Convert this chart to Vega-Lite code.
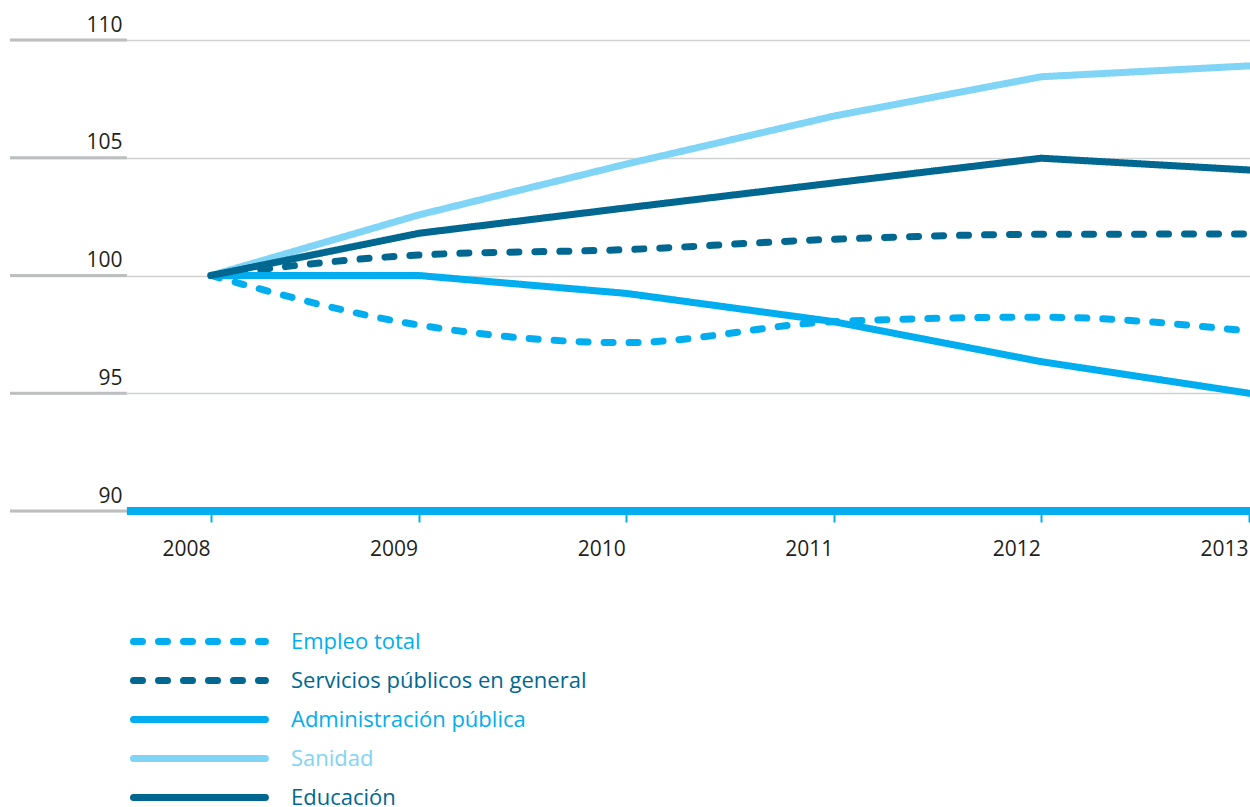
{
  "$schema": "https://vega.github.io/schema/vega-lite/v6.json",
  "autosize": {"type": "none"},
  "padding": {"left": 10, "top": 40, "right": 0, "bottom": 296},
  "width": 1240,
  "height": 471,
  "background": "white",
  "config": {
    "view": {"stroke": null},
    "font": "Open Sans"
  },
  "datasets": {
    "series": [
      {"serie": "Empleo total", "year": 2008, "value": 100},
      {"serie": "Empleo total", "year": 2009, "value": 97.9},
      {"serie": "Empleo total", "year": 2010, "value": 97.15},
      {"serie": "Empleo total", "year": 2011, "value": 98.04},
      {"serie": "Empleo total", "year": 2012, "value": 98.23},
      {"serie": "Empleo total", "year": 2013, "value": 97.64},
      {"serie": "Servicios públicos en general", "year": 2008, "value": 100},
      {"serie": "Servicios públicos en general", "year": 2009, "value": 100.87},
      {"serie": "Servicios públicos en general", "year": 2010, "value": 101.1},
      {"serie": "Servicios públicos en general", "year": 2011, "value": 101.54},
      {"serie": "Servicios públicos en general", "year": 2012, "value": 101.75},
      {"serie": "Servicios públicos en general", "year": 2013, "value": 101.76},
      {"serie": "Administración pública", "year": 2008, "value": 100},
      {"serie": "Administración pública", "year": 2009, "value": 100},
      {"serie": "Administración pública", "year": 2010, "value": 99.24},
      {"serie": "Administración pública", "year": 2011, "value": 98.04},
      {"serie": "Administración pública", "year": 2012, "value": 96.34},
      {"serie": "Administración pública", "year": 2013, "value": 95.0},
      {"serie": "Sanidad", "year": 2008, "value": 100},
      {"serie": "Sanidad", "year": 2009, "value": 102.57},
      {"serie": "Sanidad", "year": 2010, "value": 104.73},
      {"serie": "Sanidad", "year": 2011, "value": 106.77},
      {"serie": "Sanidad", "year": 2012, "value": 108.44},
      {"serie": "Sanidad", "year": 2013, "value": 108.9},
      {"serie": "Educación", "year": 2008, "value": 100},
      {"serie": "Educación", "year": 2009, "value": 101.79},
      {"serie": "Educación", "year": 2010, "value": 102.87},
      {"serie": "Educación", "year": 2011, "value": 103.93},
      {"serie": "Educación", "year": 2012, "value": 104.98},
      {"serie": "Educación", "year": 2013, "value": 104.48}
    ],
    "grid": [{"v": 90}, {"v": 95}, {"v": 100}, {"v": 105}, {"v": 110}]
  },
  "layer": [
    {
      "data": {"name": "grid"},
      "mark": {"type": "rule", "color": "#bcbec0", "strokeWidth": 3},
      "encoding": {
        "x": {"datum": 2007.032, "type": "quantitative",
          "scale": {"domain": [2007.032, 2013.005], "nice": false, "zero": false},
          "axis": {
            "values": [2008, 2009, 2010, 2011, 2012, 2013],
            "format": "d",
            "title": null,
            "domain": false,
            "grid": false,
            "ticks": true,
            "tickColor": "#00aeef",
            "tickWidth": 2,
            "tickSize": 11,
            "labelAlign": "right",
            "labelBaseline": "alphabetic",
            "labelPadding": 33,
            "labelOffset": -1,
            "labelFlush": false,
            "labelBound": false,
            "labelOverlap": false,
            "labelFont": "Open Sans",
            "labelFontSize": 21,
            "labelColor": "#231f20"
          }
        },
        "x2": {"datum": 2007.595},
        "y": {"field": "v", "type": "quantitative",
          "scale": {"domain": [90, 110], "nice": false, "zero": false},
          "axis": {
            "values": [90, 95, 100, 105, 110],
            "title": null,
            "domain": false,
            "ticks": false,
            "grid": true,
            "gridColor": "#d0d1d3",
            "gridWidth": 1.5,
            "labelAlign": "right",
            "labelBaseline": "alphabetic",
            "labelPadding": -112,
            "labelOffset": -9,
            "labelFont": "Open Sans",
            "labelFontSize": 21,
            "labelColor": "#231f20"
          }
        }
      }
    },
    {
      "data": {"name": "grid"},
      "transform": [{"filter": "datum.v == 90"}],
      "mark": {"type": "rule", "color": "#00aeef", "strokeWidth": 8},
      "encoding": {
        "x": {"datum": 2007.595, "type": "quantitative"},
        "x2": {"datum": 2013.005},
        "y": {"field": "v", "type": "quantitative"}
      }
    },
    {
      "data": {"name": "series"},
      "transform": [{"filter": "datum.serie == 'Empleo total' || datum.serie == 'Servicios públicos en general'"}],
      "mark": {"type": "line", "strokeWidth": 7, "strokeCap": "round", "interpolate": "monotone"},
      "encoding": {
        "x": {"field": "year", "type": "quantitative"},
        "y": {"field": "value", "type": "quantitative"},
        "color": {"field": "serie", "type": "nominal",
          "scale": {
            "domain": ["Empleo total", "Servicios públicos en general", "Administración pública", "Sanidad", "Educación"],
            "range": ["#00aeef", "#006890", "#00aeef", "#80d4f6", "#006890"]
          },
          "legend": {
            "orient": "none",
            "legendX": 112.5,
            "legendY": 590.5,
            "title": null,
            "padding": 0,
            "symbolType": "M0,0H20",
            "symbolSize": 174,
            "symbolStrokeWidth": 7,
            "symbolOffset": 0,
            "labelOffset": 146.5,
            "labelFont": "Open Sans",
            "labelFontSize": 22,
            "labelLimit": 0,
            "rowPadding": 11,
            "encode": {
              "labels": {"update": {"fill": {"scale": "color", "field": "value"}}},
              "symbols": {"update": {"strokeCap": {"value": "round"}, "fill": {"value": "transparent"}}}
            }
          }
        },
        "strokeDash": {"field": "serie", "type": "nominal",
          "scale": {
            "domain": ["Empleo total", "Servicios públicos en general", "Administración pública", "Sanidad", "Educación"],
            "range": [[9, 16], [9, 16], [1, 0], [1, 0], [1, 0]]
          },
          "legend": {
            "orient": "none",
            "legendX": 112.5,
            "legendY": 590.5,
            "title": null
          }
        }
      }
    },
    {
      "data": {"name": "series"},
      "transform": [{"filter": "datum.serie != 'Empleo total' && datum.serie != 'Servicios públicos en general'"}],
      "mark": {"type": "line", "strokeWidth": 7, "strokeCap": "round", "strokeJoin": "round"},
      "encoding": {
        "x": {"field": "year", "type": "quantitative"},
        "y": {"field": "value", "type": "quantitative"},
        "color": {"field": "serie", "type": "nominal"},
        "strokeDash": {"field": "serie", "type": "nominal"}
      }
    }
  ]
}
